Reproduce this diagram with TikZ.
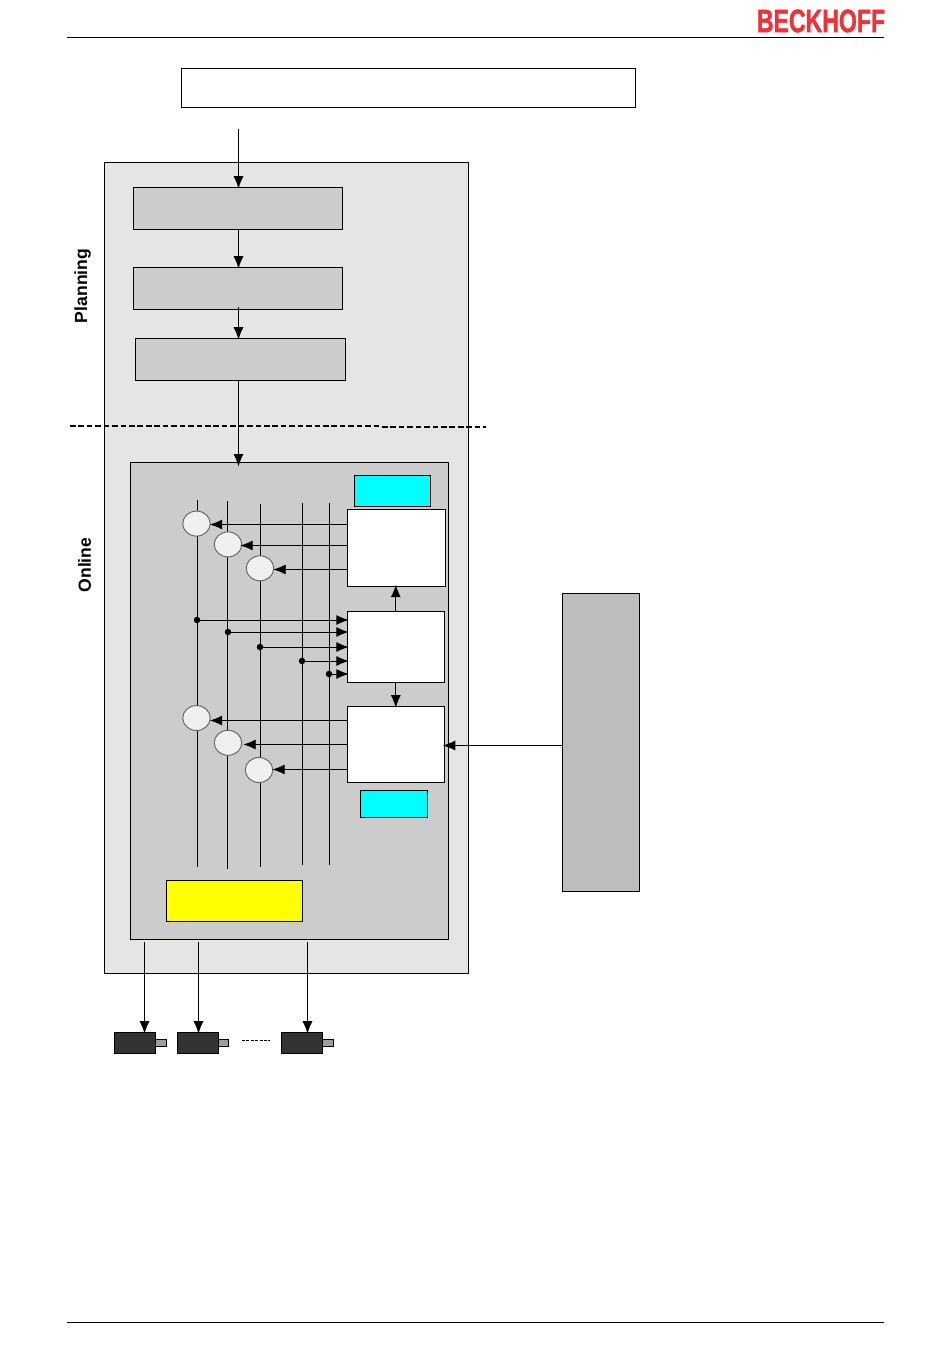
\documentclass[tikz,border=0pt]{standalone}
\usepackage{fontspec}
\setmainfont{Liberation Sans}
\newfontfamily\logofont[BoldFeatures={FakeBold=1.6}]{Liberation Sans}
\usepackage{tikz}
\usetikzlibrary{arrows.meta,positioning,shapes.geometric,calc}

\definecolor{panelgray}{HTML}{E5E5E5}
\definecolor{innergray}{HTML}{CCCCCC}
\definecolor{logored}{HTML}{EE3338}
\definecolor{purecyan}{HTML}{00FFFF}
\definecolor{pureyellow}{HTML}{FFFF00}

\begin{document}
\begin{tikzpicture}[
  x=0.02cm, y=-0.02cm,
  font=\bfseries\fontsize{10}{12}\selectfont,
  >={Latex[length=0.25cm,width=0.2cm]},
  line width=0.55pt,
  every node/.style={outer sep=0pt},
  boxout/.style={draw, fill=panelgray, inner sep=0pt},
  boxin/.style={draw, fill=innergray, inner sep=0pt},
  boxplan/.style={draw, fill=innergray, inner sep=0pt, minimum width=4.18cm, minimum height=0.84cm},
  boxwhite/.style={draw, fill=white, inner sep=0pt, minimum width=1.94cm},
  boxcyan/.style={draw, fill=purecyan, inner sep=0pt},
  sumcirc/.style={draw=black!60, fill=black!6, ellipse, inner sep=0pt, minimum width=0.55cm, minimum height=0.5cm},
  junc/.style={circle, fill=black, inner sep=0pt, minimum size=0.13cm},
  motorbody/.style={draw, fill=black!80, inner sep=0pt, minimum width=0.82cm, minimum height=0.42cm},
  motorshaft/.style={draw, fill=black!38, inner sep=0pt, minimum width=0.22cm, minimum height=0.14cm},
  arr/.style={->, shorten >=-0.03cm},
  rra/.style={<-, shorten <=-0.03cm},
  sepline/.style={line width=0.85pt, dash pattern=on 3.2pt off 1.6pt}
]
\useasboundingbox (0,0) rectangle (950,1369);

% header and footer
\coordinate (headl) at (67,37.6); \coordinate (headr) at (884,37.6);
\coordinate (footl) at (67,1322.5); \coordinate (footr) at (884,1322.5);
\draw (headl) -- (headr);
\draw (footl) -- (footr);
\node[text=logored, inner sep=0pt, xscale=0.71, transform shape, font=\logofont\bfseries\fontsize{18.5}{20}\selectfont] (logo) at (821,21) {BECKHOFF};

% panels
\node[draw, fill=white, inner sep=0pt, minimum width=9.08cm, minimum height=0.78cm] (cmd) at (408.2,87.7) {};
\node[boxout, minimum width=7.28cm, minimum height=16.22cm] (outer) at (286.2,567.7) {};
\node[boxplan] (plan1) at (237.7,208.2) {};
\node[boxplan] (plan2) at (237.7,288.2) {};
\node[boxplan, minimum width=4.2cm] (plan3) at (240.2,359.2) {};
\node[boxin, minimum width=6.36cm, minimum height=9.54cm] (online) at (289.2,700.7) {};
\node[draw, fill=black!26, inner sep=0pt, minimum width=1.54cm, minimum height=5.96cm] (drive) at (600.7,742.2) {};

\node[rotate=90, inner sep=0pt] (lblplan) at (82.5,286) {Planning};
\node[rotate=90, inner sep=0pt] (lblonl) at (84.5,565) {Online};

% planning / online separator
\coordinate (sepa) at (70,426); \coordinate (sepb) at (382,426);
\coordinate (sepc) at (382,427); \coordinate (sepd) at (486,427);
\draw[sepline] (sepa) -- (sepb);
\draw[sepline] (sepc) -- (sepd);

% bus lines
\foreach \n/\xx/\ya/\yb in {1/197.5/500/867, 2/227.5/501/869, 3/260/504/867, 4/302.5/503/865, 5/329.5/503/865} {
  \coordinate (bus\n t) at (\xx,\ya);
  \coordinate (bus\n b) at (\xx,\yb);
  \draw (bus\n t) -- (bus\n b);
}

% inner blocks
\node[boxcyan, minimum width=1.52cm, minimum height=0.62cm] (cyan1) at (392.2,490.7) {};
\node[boxwhite, minimum width=1.96cm, minimum height=1.54cm] (gen) at (396.2,547.7) {};
\node[boxwhite, minimum height=1.42cm] (ctrl) at (395.8,646.7) {};
\node[boxwhite, minimum height=1.52cm] (pos) at (395.8,744.2) {};
\node[boxcyan, minimum width=1.34cm, minimum height=0.54cm] (cyan2) at (393.7,803.7) {};
\node[draw, fill=pureyellow, inner sep=0pt, minimum width=2.72cm, minimum height=0.82cm] (plc) at (234.2,900.7) {};

\node[sumcirc] (c1) at (196.5,523.6) {};
\node[sumcirc] (c2) at (228,544.4) {};
\node[sumcirc] (c3) at (260,568.3) {};
\node[sumcirc] (c4) at (196.5,718) {};
\node[sumcirc] (c5) at (228,742.8) {};
\node[sumcirc] (c6) at (259,770) {};

\node[junc] (j1) at (197,620) {};
\node[junc] (j2) at (228,632) {};
\node[junc] (j3) at (260,647) {};
\node[junc] (j4) at (302,661) {};
\node[junc] (j5) at (329,674) {};

% motors
\node[motorshaft] (sh1) at (160.7,1042.7) {};
\node[motorbody] (m1) at (134.7,1042.7) {};
\node[motorshaft] (sh2) at (222.7,1042.7) {};
\node[motorbody] (m2) at (197.7,1042.7) {};
\node[motorshaft] (sh3) at (327.7,1042.7) {};
\node[motorbody] (m3) at (301.7,1042.7) {};

\coordinate (dota) at (242,1040.5); \coordinate (dotb) at (270,1040.5);
\draw[line width=0.4pt, dash pattern=on 1.7pt off 0.8pt] (dota) -- (dotb);

% flow
\coordinate (cmdin) at (238.5,129);
\coordinate (p2out) at (238.5,307);
\coordinate (onl) at (238.5,465);
\draw[arr] (cmdin) -- (cmdin |- plan1.north);
\draw[arr] (plan1.south -| cmdin) -- (plan2.north -| cmdin);
\draw[arr] (p2out) -- (plan3.north -| p2out);
\draw[arr] (plan3.south -| onl) -- (onl);

\foreach \circ/\blk/\yy/\gap in {c1/gen/524.5/1, c2/gen/545.5/0, c3/gen/569.5/1, c4/pos/720.5/1, c5/pos/744.5/3, c6/pos/769.5/1} {
  \draw[rra] ([xshift=\gap*0.02cm]\circ.east |- 0,\yy) -- (\blk.west |- 0,\yy);
}

\draw[arr] (j1) -- (j1 -| ctrl.west);
\draw[arr] (j2) -- (j2 -| ctrl.west);
\draw[arr] (j3) -- (j3 -| ctrl.west);
\draw[arr] (j4) -- (j4 -| ctrl.west);
\draw[arr] (j5) -- (j5 -| ctrl.west);

\draw[arr] (ctrl.north) -- (gen.south -| ctrl.north);
\draw[arr] (ctrl.south) -- (pos.north);
\coordinate (drvin) at (562,745.5);
\draw[arr] (drvin) -- (drvin -| pos.east);

\coordinate (outa) at (144.5,942);
\coordinate (outb) at (198.5,942);
\coordinate (outc) at (307.5,942);
\draw[arr] (outa) -- (outa |- m1.north);
\draw[arr] (outb) -- (outb |- m2.north);
\draw[arr] (outc) -- (outc |- m3.north);
\end{tikzpicture}
\end{document}
